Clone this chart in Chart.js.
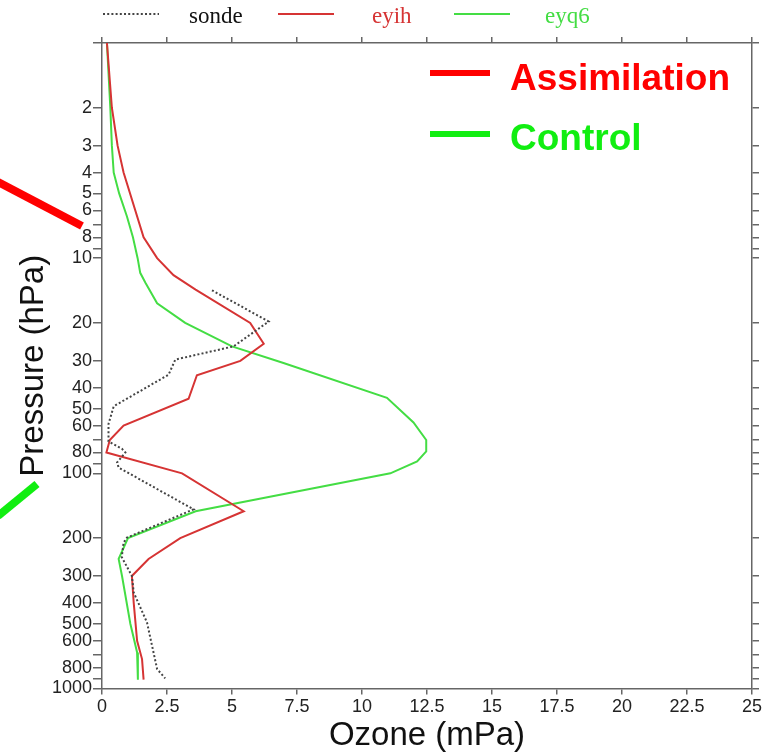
<!DOCTYPE html>
<html>
<head>
<meta charset="utf-8">
<script src="https://cdn.jsdelivr.net/npm/chart.js@4.4.1/dist/chart.umd.min.js"></script>
<style>
html,body{margin:0;padding:0;background:#fff;}
</style>
</head>
<body>
<canvas id="chart" width="774" height="754"></canvas>
<script>
// ozone profiles, pressure in hPa, ozone partial pressure in mPa
const sondePres  = [14.1, 19.7, 25.7, 29.6, 34.8, 48.8, 59, 71, 77, 80, 89, 94, 147, 199, 210, 245, 300, 358, 493, 679, 812, 897];
const sondeOzone = [4.23, 6.41, 5.06, 2.82, 2.56, 0.45, 0.25, 0.25, 0.77, 0.9, 0.58, 0.64, 3.52, 0.96, 0.83, 0.76, 1.15, 1.22, 1.73, 1.98, 2.12, 2.43];

const eyihPres  = [1, 2, 3, 4, 8, 10, 12, 14, 20, 25, 30, 35, 45, 60, 70, 80, 100, 150, 200, 250, 300, 400, 600, 730, 910];
const eyihOzone = [0.19, 0.38, 0.6, 0.83, 1.6, 2.12, 2.75, 3.6, 5.7, 6.22, 5.32, 3.65, 3.33, 0.83, 0.3, 0.17, 3.08, 5.45, 3.01, 1.79, 1.15, 1.22, 1.35, 1.54, 1.6];

const eyq6Pres  = [1, 2, 3, 4, 5, 6.4, 8, 10, 11.7, 13, 16.2, 20, 25.7, 30.7, 44.6, 58, 70, 79, 88, 100, 150, 200, 250, 300, 500, 680, 910];
const eyq6Ozone = [0.19, 0.32, 0.38, 0.45, 0.66, 0.96, 1.19, 1.37, 1.47, 1.67, 2.12, 3.2, 5.0, 6.98, 10.96, 11.98, 12.47, 12.47, 12.12, 11.09, 3.6, 1.0, 0.64, 0.77, 1.09, 1.35, 1.38];

const yTickValues = [1, 2, 3, 4, 5, 6, 7, 8, 9, 10, 20, 30, 40, 50, 60, 70, 80, 90, 100, 200, 300, 400, 500, 600, 700, 800, 900, 1000];
const yTickLabels = [2, 3, 4, 5, 6, 8, 10, 20, 30, 40, 50, 60, 80, 100, 200, 300, 400, 500, 600, 800, 1000];

const toPoints = (pres, oz) => pres.map((p, i) => ({x: oz[i], y: p}));

const axisColor = '#666';
const sans = '"Liberation Sans", Arial, sans-serif';

// top legend + annotations drawn by hand
const extras = {
  id: 'extras',
  afterDraw(chart) {
    const ctx = chart.ctx;
    ctx.save();
    // series legend along the top
    const starts = [103, 278, 454];
    const textX = [189, 372, 545];
    chart.data.datasets.forEach((ds, i) => {
      ctx.beginPath();
      ctx.strokeStyle = ds.borderColor;
      ctx.lineWidth = ds.borderWidth;
      ctx.setLineDash(ds.borderDash || []);
      ctx.moveTo(starts[i], 14);
      ctx.lineTo(starts[i] + 56, 14);
      ctx.stroke();
      ctx.setLineDash([]);
      ctx.fillStyle = ds.labelColor;
      ctx.font = '23px "Liberation Serif", "Times New Roman", serif';
      ctx.textBaseline = 'alphabetic';
      ctx.fillText(ds.label, textX[i], 23);
    });

    // Assimilation / Control key
    ctx.lineCap = 'butt';
    ctx.lineWidth = 6;
    ctx.font = 'bold 37px ' + sans;
    ctx.strokeStyle = '#ff0000';
    ctx.beginPath(); ctx.moveTo(430, 73); ctx.lineTo(490, 73); ctx.stroke();
    ctx.fillStyle = '#ff0000';
    ctx.fillText('Assimilation', 510, 90);
    ctx.strokeStyle = '#11ee11';
    ctx.beginPath(); ctx.moveTo(430, 134); ctx.lineTo(490, 134); ctx.stroke();
    ctx.fillStyle = '#11ee11';
    ctx.fillText('Control', 510, 150);

    // pointer bars on the left edge
    ctx.lineWidth = 8;
    ctx.strokeStyle = '#ff0000';
    ctx.beginPath(); ctx.moveTo(-2, 182); ctx.lineTo(82, 226); ctx.stroke();
    ctx.strokeStyle = '#11ee11';
    ctx.beginPath(); ctx.moveTo(-2, 516); ctx.lineTo(37, 484); ctx.stroke();
    ctx.restore();
  }
};

const gridOpts = (len) => ({drawOnChartArea: false, color: axisColor, lineWidth: 1.5, tickLength: len});
const borderOpts = {display: true, color: axisColor, width: 1.5};
const setYTicks = (s) => { s.ticks = yTickValues.map(v => ({value: v})); };

new Chart(document.getElementById('chart'), {
  type: 'scatter',
  data: {
    datasets: [
      {label: 'sonde', data: toPoints(sondePres, sondeOzone), borderColor: '#444', labelColor: '#111',
       borderWidth: 2, borderDash: [2, 2.2], showLine: true, pointRadius: 0, tension: 0},
      {label: 'eyih', data: toPoints(eyihPres, eyihOzone), borderColor: '#d63434', labelColor: '#d63434',
       borderWidth: 2, showLine: true, pointRadius: 0, tension: 0},
      {label: 'eyq6', data: toPoints(eyq6Pres, eyq6Ozone), borderColor: '#44dd44', labelColor: '#44dd44',
       borderWidth: 2, showLine: true, pointRadius: 0, tension: 0}
    ]
  },
  options: {
    responsive: false,
    animation: false,
    layout: {padding: 0},
    plugins: {legend: {display: false}, tooltip: {enabled: false}},
    scales: {
      x: {
        type: 'linear', position: 'bottom', min: 0, max: 25,
        grid: gridOpts(6), border: borderOpts,
        ticks: {stepSize: 2.5, padding: 2, maxRotation: 0, color: '#222', font: {family: sans, size: 18}},
        title: {display: true, text: 'Ozone (mPa)', color: '#111', font: {family: sans, size: 33, lineHeight: 1}, padding: {top: 0, bottom: 2}},
        afterFit: s => { s.height = 65.5; }
      },
      x2: {
        type: 'linear', position: 'top', min: 0, max: 25,
        grid: gridOpts(6), border: borderOpts,
        ticks: {stepSize: 2.5, display: false},
        afterFit: s => { s.height = 43; }
      },
      y: {
        type: 'logarithmic', position: 'left', min: 1, max: 1000, reverse: true,
        grid: gridOpts(9), border: borderOpts,
        afterBuildTicks: setYTicks,
        ticks: {autoSkip: false, padding: 1, color: '#222', font: {family: sans, size: 18},
                callback: v => yTickLabels.includes(v) ? String(v) : ''},
        title: {display: true, text: 'Pressure (hPa)', color: '#111', font: {family: sans, size: 33, lineHeight: 1}, padding: {top: 17, bottom: 0}},
        afterFit: s => { s.width = 102; }
      },
      y2: {
        type: 'logarithmic', position: 'right', min: 1, max: 1000, reverse: true,
        grid: gridOpts(7), border: borderOpts,
        afterBuildTicks: setYTicks,
        ticks: {autoSkip: false, display: false},
        afterFit: s => { s.width = 22; }
      }
    }
  },
  plugins: [extras]
});
</script>
</body>
</html>
